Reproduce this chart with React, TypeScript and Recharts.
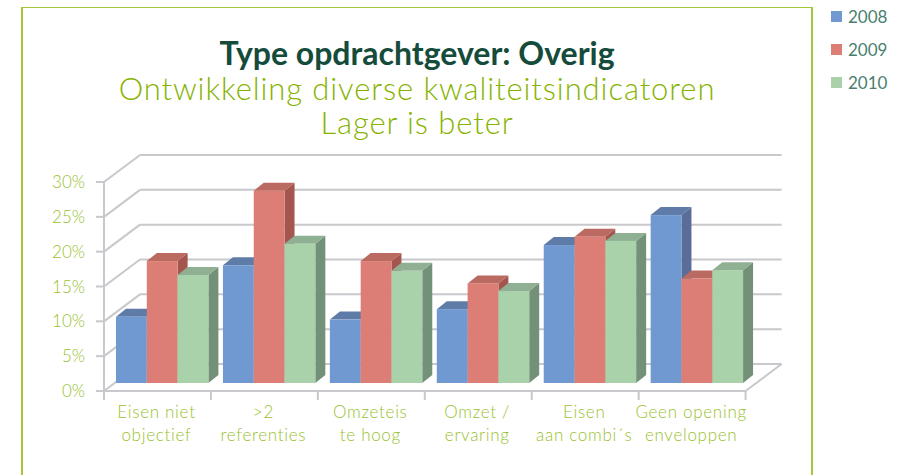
import { Bar, BarChart, CartesianGrid, Legend, XAxis, YAxis } from "recharts";

const categories = [
  "Eisen niet|objectief",
  ">2|referenties",
  "Omzeteis|te hoog",
  "Omzet /|ervaring",
  "Eisen|aan combi´s",
  "Geen opening|enveloppen",
];
const values2008 = [9.5, 16.9, 9.1, 10.6, 19.8, 24.1];
const values2009 = [17.5, 27.6, 17.5, 14.3, 21, 15];
const values2010 = [15.5, 20, 16.1, 13.2, 20.4, 16.2];
const yTicks = [0, 5, 10, 15, 20, 25, 30];

const data = categories.map((name, i) => ({
  name,
  y2008: values2008[i],
  y2009: values2009[i],
  y2010: values2010[i],
}));

const series = [
  { key: "y2008", label: "2008", front: "#7099d1", top: "#5f7ca8", side: "#5a6d98" },
  { key: "y2009", label: "2009", front: "#dc7e75", top: "#bb6a62", side: "#a4564e" },
  { key: "y2010", label: "2010", front: "#a9d2aa", top: "#90b094", side: "#739078" },
];

const LIME = "#98c22e";
const GRID = "#c8c8cd";
const WALL_DX = 36;
const WALL_DY = 27;
const BAND = 641.6 / categories.length;

function GridLine(props: any) {
  const { x1, x2, y1, y2 } = props;
  const isFloor = y1 > 380;
  return (
    <g stroke={GRID} strokeWidth={2} fill="none">
      <line x1={x1 + WALL_DX} x2={x2 + WALL_DX} y1={y1 - WALL_DY} y2={y2 - WALL_DY} />
      <line x1={x1} x2={x1 + WALL_DX} y1={y1} y2={y1 - WALL_DY} />
      {isFloor && <line x1={x2} x2={x2 + WALL_DX} y1={y2} y2={y2 - WALL_DY} />}
    </g>
  );
}

function Box3D(props: any, colors: { front: string; top: string; side: string }) {
  const x = props.x + 5;
  const y = props.y - 8;
  const w = props.width;
  const h = props.height;
  const dx = 10;
  const dy = 8;
  return (
    <g>
      <path d={`M${x + w},${y} l${dx},${-dy} v${h} l${-dx},${dy} z`} fill={colors.side} />
      <path d={`M${x},${y} l${dx},${-dy} h${w} l${-dx},${dy} z`} fill={colors.top} />
      <rect x={x} y={y} width={w} height={h} fill={colors.front} />
    </g>
  );
}

function CategoryTick(props: any) {
  const { x, payload, index } = props;
  const [line1, line2] = String(payload.value).split("|");
  const left = x - BAND / 2;
  return (
    <g>
      <line x1={left} x2={left} y1={391} y2={400} stroke={GRID} strokeWidth={2} />
      {index === categories.length - 1 && (
        <line x1={left + BAND} x2={left + BAND} y1={391} y2={400} stroke={GRID} strokeWidth={2} />
      )}
      <text textAnchor="middle" fontFamily="Lato" fontWeight={300} fontSize={17} fill={LIME} letterSpacing={0.7}>
        <tspan x={x - 1} y={418}>{line1}</tspan>
        <tspan x={x - 1} y={441}>{line2}</tspan>
      </text>
    </g>
  );
}

function LegendList() {
  return (
    <div>
      {series.map((s) => (
        <div key={s.key} style={{ display: "flex", alignItems: "center", height: 33 }}>
          <span style={{ width: 11, height: 11, background: s.front, marginRight: 6 }} />
          <span style={{ font: "17px Lato", color: "#4a7f6e" }}>{s.label}</span>
        </div>
      ))}
    </div>
  );
}

export default function App() {
  return (
    <div style={{ position: "absolute", left: 0, top: 0, width: 910, height: 475, overflow: "hidden", background: "#fff" }}>
      <div
        style={{
          position: "absolute",
          left: 21,
          top: 7,
          width: 792,
          height: 480,
          borderTop: "1px solid #a4c639",
          borderLeft: "2px solid #a4c639",
          borderRight: "2px solid #a4c639",
          boxSizing: "border-box",
        }}
      />
      <div
        style={{
          position: "absolute",
          left: 22,
          width: 790,
          top: 35,
          textAlign: "center",
          whiteSpace: "nowrap",
          fontFamily: "Lato",
          fontSize: 32,
          lineHeight: "36px",
          fontWeight: 700,
          color: "#154b3b",
        }}
      >
        Type opdrachtgever: Overig
      </div>
      <div
        style={{
          position: "absolute",
          left: 22,
          width: 790,
          top: 71,
          textAlign: "center",
          whiteSpace: "nowrap",
          fontFamily: "Lato",
          fontSize: 31,
          lineHeight: "34px",
          fontWeight: 300,
          color: "#86b300",
          letterSpacing: 0.9,
        }}
      >
        Ontwikkeling diverse kwaliteitsindicatoren
        <br />
        Lager is beter
      </div>
      <div style={{ position: "absolute", left: 0, top: 0 }}>
        <BarChart
          width={910}
          height={475}
          data={data}
          barSize={30.8}
          barGap={0}
          margin={{ top: 182, right: 85.4, bottom: 0, left: 0 }}
        >
          <CartesianGrid vertical={false} horizontal={(p: any) => <GridLine key={p.index} {...p} />} />
          <XAxis
            dataKey="name"
            height={84}
            interval={0}
            axisLine={{ stroke: GRID, strokeWidth: 2 }}
            tickLine={false}
            tick={CategoryTick}
          />
          <YAxis
            width={104}
            domain={[0, 30]}
            ticks={yTicks}
            interval={0}
            tickSize={8}
            tickMargin={11}
            tickFormatter={(v) => `${v}%`}
            axisLine={{ stroke: GRID, strokeWidth: 2 }}
            tickLine={{ stroke: GRID, strokeWidth: 2 }}
            tick={{ fill: LIME, fontFamily: "Lato", fontWeight: 300, fontSize: 17 }}
          />
          <Legend
            layout="vertical"
            align="right"
            verticalAlign="top"
            content={<LegendList />}
            wrapperStyle={{ left: 831, top: 0, width: 79 }}
          />
          {series.map((s) => (
            <Bar
              key={s.key}
              dataKey={s.key}
              name={s.label}
              isAnimationActive={false}
              shape={(p: any) => Box3D(p, s)}
            />
          ))}
        </BarChart>
      </div>
    </div>
  );
}
